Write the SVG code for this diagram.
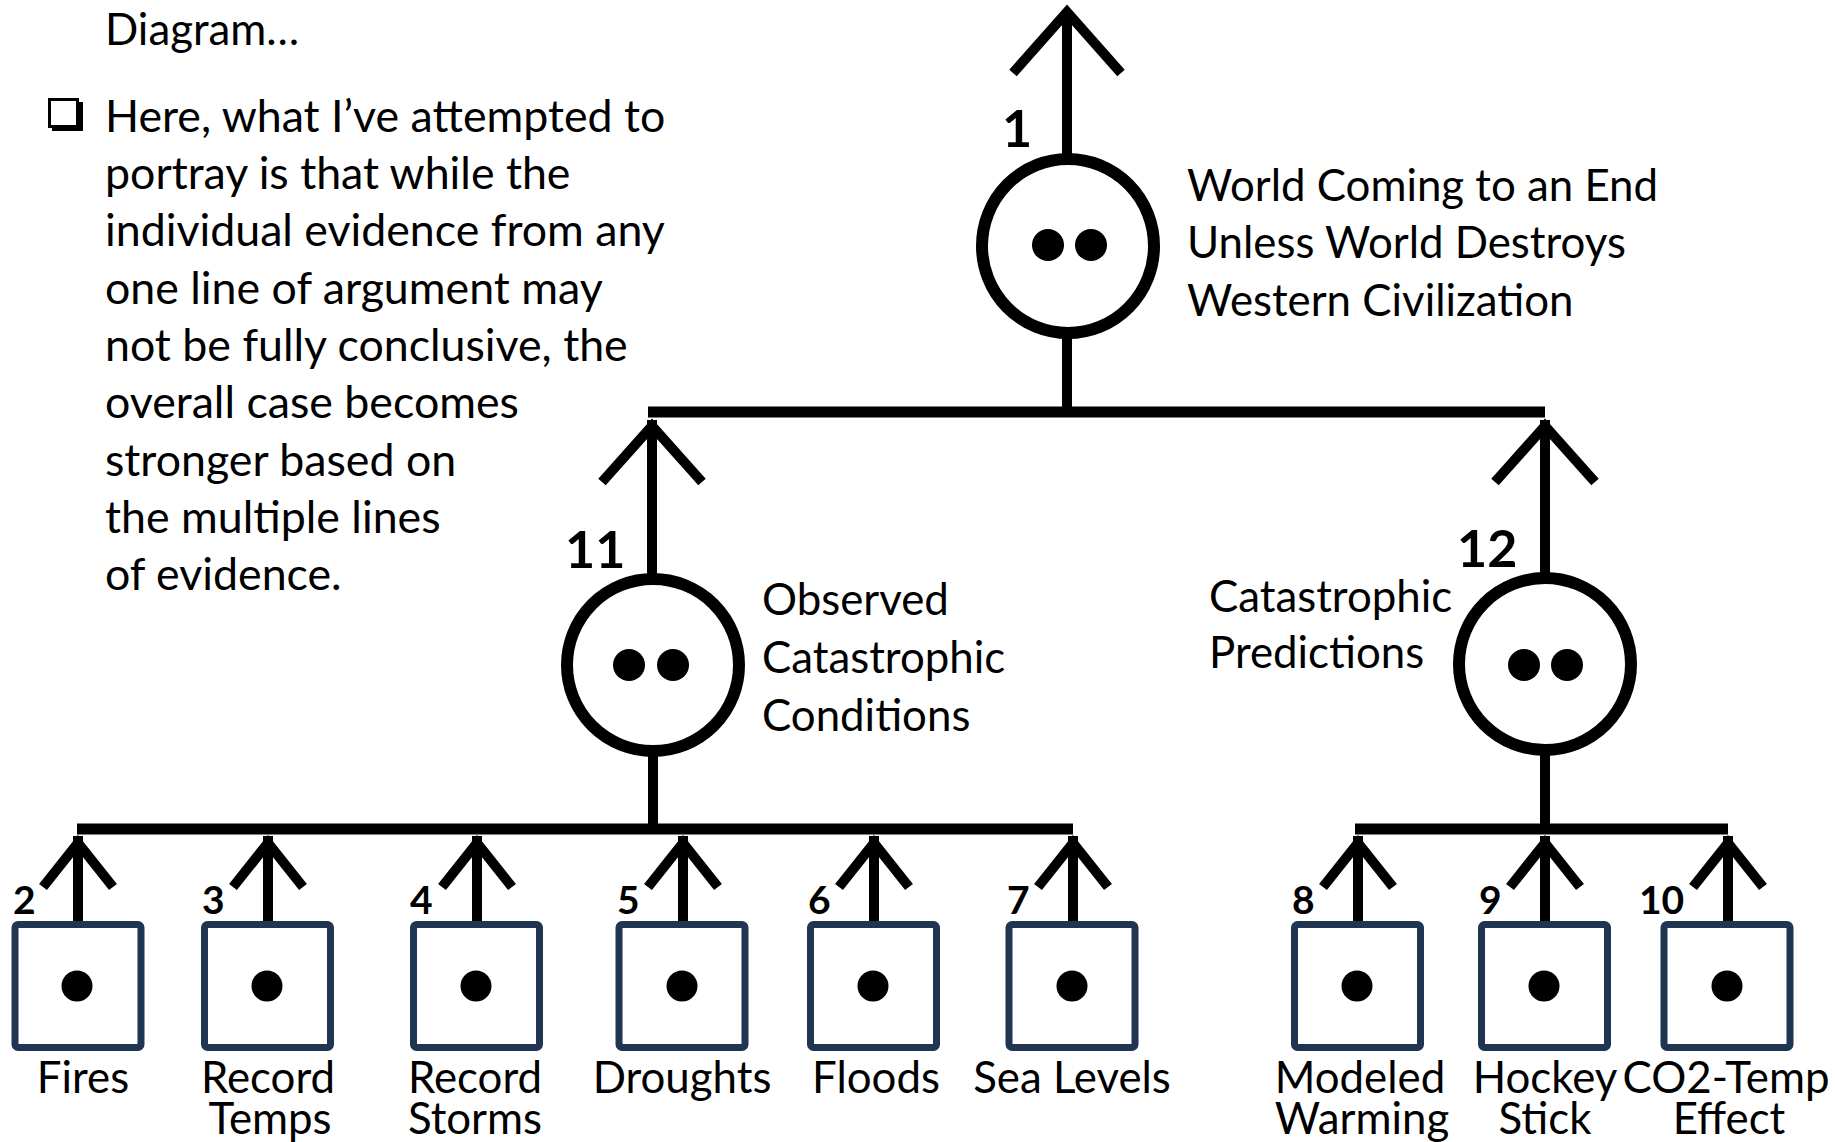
<svg xmlns="http://www.w3.org/2000/svg" xmlns:xlink="http://www.w3.org/1999/xlink" width="1835" height="1142" viewBox="0 0 1835 1142">
  <style>
    .t { font-family: Lato, "Liberation Sans", sans-serif; font-size: 43.8px; fill: #000; }
    .b { font-size: 44.7px; }
    .c { text-anchor: middle; }
    .n { font-family: Lato, "Liberation Sans", sans-serif; font-weight: bold; font-size: 39px; fill: #000; }
    .nl { font-size: 52px; }
    .ln { stroke: #000; stroke-width: 11; fill: none; }
    .sh { stroke: #000; stroke-width: 10; fill: none; }
    .ah { stroke: #000; stroke-width: 10; fill: none; stroke-linejoin: miter; stroke-miterlimit: 10; }
    .circ { fill: #fff; stroke: #000; stroke-width: 12; }
    .box { fill: #fff; stroke: #1F3552; stroke-width: 7; }
    .dot { fill: #000; }
  </style>
  <defs>
    <path id="ahS" class="ah" d="M-35,44 L0,0 L35,44"/>
    <path id="ahM" class="ah" d="M-50,56 L0,0 L50,56"/>
    <path id="ahL" class="ah" d="M-54,61 L0,0 L54,61"/>
  </defs>
  <rect width="1835" height="1142" fill="#fff"/>

  <g id="intro-text">
    <text class="t" x="105" y="45">Diagram…</text>
    <g id="bullet">
      <rect x="52" y="102" width="31" height="29" fill="#000"/>
      <rect x="49.5" y="99.5" width="28" height="27" fill="#fff" stroke="#000" stroke-width="3"/>
    </g>
    <text class="t b" x="105" y="132">Here, what I’ve attempted to</text>
    <text class="t b" x="105" y="189">portray is that while the</text>
    <text class="t b" x="105" y="246">individual evidence from any</text>
    <text class="t b" x="105" y="304">one line of argument may</text>
    <text class="t b" x="105" y="361">not be fully conclusive, the</text>
    <text class="t b" x="105" y="418">overall case becomes</text>
    <text class="t b" x="105" y="476">stronger based on</text>
    <text class="t b" x="105" y="533">the multiple lines</text>
    <text class="t b" x="105" y="590">of evidence.</text>
  </g>

  <g id="connectors">
    <line class="sh" x1="1067" y1="14" x2="1067" y2="155"/>
    <use xlink:href="#ahL" x="1067" y="12"/>
    <line class="sh" x1="1067" y1="336" x2="1067" y2="412"/>
    <line class="ln" x1="648" y1="412" x2="1545" y2="412"/>
    <line class="sh" x1="652" y1="420" x2="652" y2="575"/>
    <use xlink:href="#ahM" x="652" y="426"/>
    <line class="sh" x1="1545" y1="420" x2="1545" y2="575"/>
    <use xlink:href="#ahM" x="1545" y="426"/>
    <line class="sh" x1="653" y1="755" x2="653" y2="829"/>
    <line class="ln" x1="77" y1="829" x2="1073" y2="829"/>
    <line class="sh" x1="1545" y1="755" x2="1545" y2="829"/>
    <line class="ln" x1="1355" y1="829" x2="1728" y2="829"/>
    <g id="leaf-arrows">
      <line class="sh" x1="78" y1="836" x2="78" y2="922"/><use xlink:href="#ahS" x="78" y="843"/>
      <line class="sh" x1="268" y1="836" x2="268" y2="922"/><use xlink:href="#ahS" x="268" y="843"/>
      <line class="sh" x1="477" y1="836" x2="477" y2="922"/><use xlink:href="#ahS" x="477" y="843"/>
      <line class="sh" x1="683" y1="836" x2="683" y2="922"/><use xlink:href="#ahS" x="683" y="843"/>
      <line class="sh" x1="874" y1="836" x2="874" y2="922"/><use xlink:href="#ahS" x="874" y="843"/>
      <line class="sh" x1="1073" y1="836" x2="1073" y2="922"/><use xlink:href="#ahS" x="1073" y="843"/>
      <line class="sh" x1="1358" y1="836" x2="1358" y2="922"/><use xlink:href="#ahS" x="1358" y="843"/>
      <line class="sh" x1="1545" y1="836" x2="1545" y2="922"/><use xlink:href="#ahS" x="1545" y="843"/>
      <line class="sh" x1="1728" y1="836" x2="1728" y2="922"/><use xlink:href="#ahS" x="1728" y="843"/>
    </g>
  </g>

  <g id="node-1">
    <ellipse class="circ" cx="1068" cy="246" rx="86" ry="87"/>
    <circle class="dot" cx="1048" cy="245" r="16"/>
    <circle class="dot" cx="1091" cy="245" r="16"/>
    <text class="n nl" x="1002" y="147">1</text>
    <text class="t" x="1187" y="201">World Coming to an End</text>
    <text class="t" x="1187" y="258">Unless World Destroys</text>
    <text class="t" x="1187" y="316">Western Civilization</text>
  </g>

  <g id="node-11">
    <ellipse class="circ" cx="653" cy="665" rx="86" ry="86"/>
    <circle class="dot" cx="629" cy="665" r="16"/>
    <circle class="dot" cx="673" cy="665" r="16"/>
    <text class="n nl" x="565" y="568">11</text>
    <text class="t" x="762" y="615">Observed</text>
    <text class="t" x="762" y="673">Catastrophic</text>
    <text class="t" x="762" y="731">Conditions</text>
  </g>

  <g id="node-12">
    <ellipse class="circ" cx="1545" cy="664" rx="86" ry="86"/>
    <circle class="dot" cx="1524" cy="665" r="16"/>
    <circle class="dot" cx="1567" cy="665" r="16"/>
    <text class="n nl" x="1457" y="567">12</text>
    <text class="t" x="1209" y="612">Catastrophic</text>
    <text class="t" x="1209" y="668">Predictions</text>
  </g>

  <g id="node-2">
    <rect class="box" x="15" y="924.5" width="126" height="123" rx="3"/>
    <circle class="dot" cx="77" cy="986" r="15.5"/>
    <text class="n" x="13" y="914">2</text>
    <text class="t c" x="83" y="1093">Fires</text>
  </g>
  <g id="node-3">
    <rect class="box" x="204.5" y="924.5" width="126" height="123" rx="3"/>
    <circle class="dot" cx="267" cy="986" r="15.5"/>
    <text class="n" x="202" y="914">3</text>
    <text class="t c" x="268" y="1093">Record</text>
    <text class="t c" x="270" y="1134">Temps</text>
  </g>
  <g id="node-4">
    <rect class="box" x="413.5" y="924.5" width="126" height="123" rx="3"/>
    <circle class="dot" cx="476" cy="986" r="15.5"/>
    <text class="n" x="410" y="914">4</text>
    <text class="t c" x="475" y="1093">Record</text>
    <text class="t c" x="475" y="1134">Storms</text>
  </g>
  <g id="node-5">
    <rect class="box" x="619" y="924.5" width="126" height="123" rx="3"/>
    <circle class="dot" cx="682" cy="986" r="15.5"/>
    <text class="n" x="617" y="914">5</text>
    <text class="t c" x="682" y="1093">Droughts</text>
  </g>
  <g id="node-6">
    <rect class="box" x="810.5" y="924.5" width="126" height="123" rx="3"/>
    <circle class="dot" cx="873" cy="986" r="15.5"/>
    <text class="n" x="808" y="914">6</text>
    <text class="t c" x="876" y="1093">Floods</text>
  </g>
  <g id="node-7">
    <rect class="box" x="1009" y="924.5" width="126" height="123" rx="3"/>
    <circle class="dot" cx="1072" cy="986" r="15.5"/>
    <text class="n" x="1007" y="914">7</text>
    <text class="t c" x="1072" y="1093">Sea Levels</text>
  </g>
  <g id="node-8">
    <rect class="box" x="1294.5" y="924.5" width="126" height="123" rx="3"/>
    <circle class="dot" cx="1357" cy="986" r="15.5"/>
    <text class="n" x="1292" y="914">8</text>
    <text class="t c" x="1360" y="1093">Modeled</text>
    <text class="t c" x="1362" y="1134">Warming</text>
  </g>
  <g id="node-9">
    <rect class="box" x="1481.5" y="924.5" width="126" height="123" rx="3"/>
    <circle class="dot" cx="1544" cy="986" r="15.5"/>
    <text class="n" x="1479" y="914">9</text>
    <text class="t c" x="1545" y="1093">Hockey</text>
    <text class="t c" x="1545" y="1134">Stick</text>
  </g>
  <g id="node-10">
    <rect class="box" x="1664" y="924.5" width="126" height="123" rx="3"/>
    <circle class="dot" cx="1727" cy="986" r="15.5"/>
    <text class="n" x="1639" y="914">10</text>
    <text class="t c" x="1726" y="1093">CO2-Temp</text>
    <text class="t c" x="1729" y="1134">Effect</text>
  </g>
</svg>
